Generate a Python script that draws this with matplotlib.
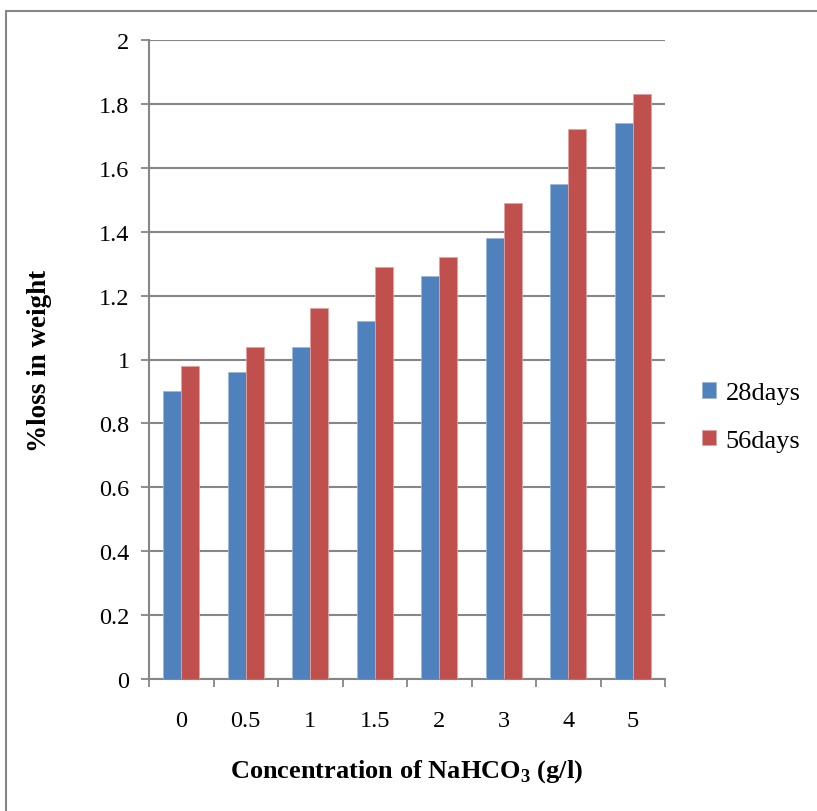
import numpy as np
import matplotlib.pyplot as plt
from matplotlib.patches import Rectangle

categories = ['0', '0.5', '1', '1.5', '2', '3', '4', '5']
days28 = [0.90, 0.96, 1.04, 1.12, 1.26, 1.38, 1.55, 1.74]
days56 = [0.98, 1.04, 1.16, 1.29, 1.32, 1.49, 1.72, 1.83]

plt.rcParams['font.family'] = ['Liberation Serif', 'DejaVu Serif']

fig = plt.figure(figsize=(8.17, 8.12), dpi=100)
ax = fig.add_axes([149/817, 1 - 680/812, (665-149)/817, (680-41)/812])

x = np.arange(len(categories))
w = 0.28
ax.bar(x - w/2, days28, w, color='#4F81BD', edgecolor='#9db7db', linewidth=0.6, label='28days', zorder=3)
ax.bar(x + w/2, days56, w, color='#C0504D', edgecolor='#e0a3a1', linewidth=0.6, label='56days', zorder=3)

ax.set_xlim(-0.5, len(categories) - 0.5)
ax.set_ylim(0, 2)
ax.set_yticks(np.arange(0, 2.01, 0.2))
ax.set_yticklabels(['0', '0.2', '0.4', '0.6', '0.8', '1', '1.2', '1.4', '1.6', '1.8', '2'])
ax.set_xticks(x)
ax.set_xticklabels(categories)
ax.set_xticks(np.arange(-0.5, len(categories)), minor=True)
ax.tick_params(axis='x', which='major', length=0, pad=22, labelsize=17.5)
ax.tick_params(axis='x', which='minor', length=6, color='#868686', width=1.3)
ax.tick_params(axis='y', length=6, color='#868686', width=1.3, labelsize=17.5, pad=8)

ax.grid(axis='y', color='#868686', linewidth=1.5, zorder=0)
for s in ['top', 'right']:
    ax.spines[s].set_visible(False)
for s in ['left', 'bottom']:
    ax.spines[s].set_color('#868686')
    ax.spines[s].set_linewidth(1.5)

ax.set_ylabel('%loss in weight', fontsize=19.5, fontweight='bold', labelpad=34)
ax.set_xlabel(r'Concentration of NaHCO$_\mathregular{3}$ (g/l)', fontsize=19, fontweight='bold', labelpad=19)

ax.legend(loc='center left', bbox_to_anchor=(1.025, 0.41), frameon=False, fontsize=19,
          handlelength=0.55, handleheight=0.55, handletextpad=0.35, labelspacing=0.95)

fig.patches.append(Rectangle((6/817, -0.1), 1.2, 1 - 12/812 + 0.1, transform=fig.transFigure,
                             fill=False, edgecolor='#868686', linewidth=1.5))

fig.savefig('out.png', dpi=100)
